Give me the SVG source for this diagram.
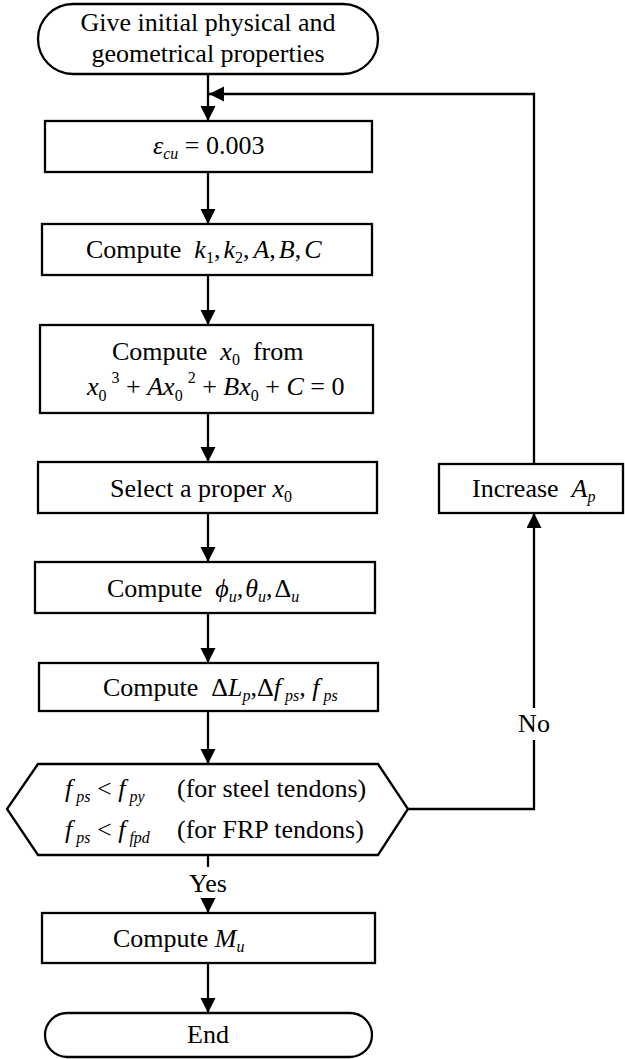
<svg xmlns="http://www.w3.org/2000/svg" width="625" height="1059" viewBox="0 0 625 1059">
<defs>
<style>
text{font-family:"Liberation Serif","Times New Roman",serif;font-size:26px;fill:#000;white-space:pre;}
.i{font-style:italic;}
.s{font-style:italic;font-size:16px;}
.n{font-size:16px;}
.box{fill:#fff;stroke:#000;stroke-width:2.3;}
.ln{fill:none;stroke:#000;stroke-width:2.3;}
</style>
<marker id="ah" markerUnits="userSpaceOnUse" markerWidth="16" markerHeight="16" refX="15" refY="7.5" orient="auto">
<path d="M0,0 L15,7.5 L0,15 z" fill="#000"/>
</marker>
</defs>
<rect width="625" height="1059" fill="#fff"/>

<g id="connectors">
<path class="ln" d="M208,74 V121" marker-end="url(#ah)"/>
<path class="ln" d="M534,464 V94 H209" marker-end="url(#ah)"/>
<path class="ln" d="M208,172 V224" marker-end="url(#ah)"/>
<path class="ln" d="M208,275 V325" marker-end="url(#ah)"/>
<path class="ln" d="M208,413 V462" marker-end="url(#ah)"/>
<path class="ln" d="M208,513 V562" marker-end="url(#ah)"/>
<path class="ln" d="M208,613 V663" marker-end="url(#ah)"/>
<path class="ln" d="M208,711 V764" marker-end="url(#ah)"/>
<path class="ln" d="M208,855 V867"/>
<path class="ln" d="M208,899 V913" marker-end="url(#ah)"/>
<path class="ln" d="M208,963 V1013" marker-end="url(#ah)"/>
<path class="ln" d="M408,809 H534 V740"/>
<path class="ln" d="M534,708 V513" marker-end="url(#ah)"/>
<text x="208" y="892" text-anchor="middle">Yes</text>
<text x="534" y="732" text-anchor="middle">No</text>
</g>

<g id="start">
<rect class="box" x="38" y="4" width="340" height="70" rx="35" ry="35"/>
<text x="208" y="31" text-anchor="middle">Give initial physical and</text>
<text x="208" y="62" text-anchor="middle">geometrical properties</text>
</g>

<g id="eps">
<rect class="box" x="45" y="121" width="327" height="51"/>
<text x="153" y="154"><tspan class="i">ε</tspan><tspan class="s" dy="5">cu</tspan><tspan dy="-5"> = 0.003</tspan></text>
</g>

<g id="coeffs">
<rect class="box" x="42" y="224" width="330" height="51"/>
<text x="86" y="258">Compute  <tspan class="i">k</tspan><tspan class="n" dy="5">1</tspan><tspan dy="-5">,</tspan><tspan class="i" dx="3">k</tspan><tspan class="n" dy="5">2</tspan><tspan dy="-5">,</tspan><tspan class="i" dx="4">A</tspan>,<tspan class="i" dx="3">B</tspan>,<tspan class="i" dx="3">C</tspan></text>
</g>

<g id="solve">
<rect class="box" x="40" y="325" width="333" height="88"/>
<text x="112" y="360">Compute  <tspan class="i">x</tspan><tspan class="n" dy="5">0</tspan><tspan dy="-5">  from</tspan></text>
<text x="87" y="395"><tspan class="i">x</tspan><tspan class="n" dy="6">0</tspan><tspan class="n" dx="5" dy="-18">3</tspan><tspan dy="12"> + </tspan><tspan class="i">Ax</tspan><tspan class="n" dy="6">0</tspan><tspan class="n" dx="5" dy="-18">2</tspan><tspan dy="12"> + </tspan><tspan class="i">Bx</tspan><tspan class="n" dy="6">0</tspan><tspan dy="-6"> + </tspan><tspan class="i">C</tspan> = 0</text>
</g>

<g id="select">
<rect class="box" x="38" y="462" width="339" height="51"/>
<text x="110" y="497">Select a proper <tspan class="i">x</tspan><tspan class="n" dy="5">0</tspan></text>
</g>

<g id="curv">
<rect class="box" x="35" y="562" width="340" height="51"/>
<text x="107" y="597">Compute  <tspan class="i">ϕ</tspan><tspan class="s" dy="5">u</tspan><tspan dy="-5">,</tspan><tspan class="i" dx="2">θ</tspan><tspan class="s" dy="5">u</tspan><tspan dy="-5">,</tspan><tspan dx="2">Δ</tspan><tspan class="s" dy="5">u</tspan></text>
</g>

<g id="stress">
<rect class="box" x="39" y="663" width="339" height="48"/>
<text x="103" y="696">Compute  Δ<tspan class="i">L</tspan><tspan class="s" dy="5">p</tspan><tspan dy="-5">,Δ</tspan><tspan class="i">f</tspan><tspan class="s" dy="5"> ps</tspan><tspan dy="-5">, </tspan><tspan class="i">f</tspan><tspan class="s" dy="5"> ps</tspan></text>
</g>

<g id="check">
<polygon class="box" points="38,764 378,764 408,809 378,855 38,855 7,809"/>
<text x="65" y="797"><tspan class="i">f</tspan><tspan class="s" dy="5"> ps</tspan><tspan dy="-5"> &lt; </tspan><tspan class="i">f</tspan><tspan class="s" dy="5"> py</tspan></text>
<text x="177" y="797">(for steel tendons)</text>
<text x="65" y="838"><tspan class="i">f</tspan><tspan class="s" dy="5"> ps</tspan><tspan dy="-5"> &lt; </tspan><tspan class="i">f</tspan><tspan class="s" dy="5"> fpd</tspan></text>
<text x="177" y="838">(for FRP tendons)</text>
</g>

<g id="moment">
<rect class="box" x="42" y="913" width="333" height="50"/>
<text x="113" y="947">Compute <tspan class="i">M</tspan><tspan class="s" dy="5">u</tspan></text>
</g>

<g id="end">
<rect class="box" x="45" y="1013" width="327" height="44" rx="22" ry="22"/>
<text x="208" y="1043" text-anchor="middle">End</text>
</g>

<g id="increase">
<rect class="box" x="439" y="464" width="184" height="49"/>
<text x="472" y="497">Increase  <tspan class="i">A</tspan><tspan class="s" dy="5">p</tspan></text>
</g>
</svg>
